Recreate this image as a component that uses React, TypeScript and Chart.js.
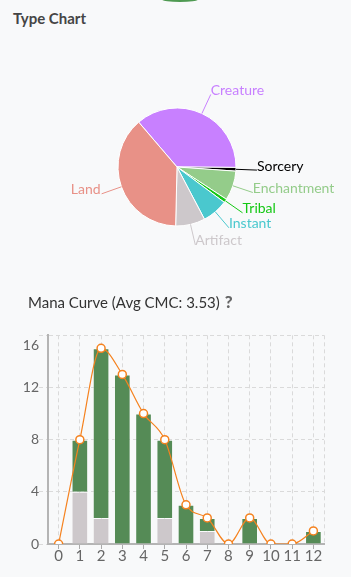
import React, { useEffect, useRef } from 'react';
import { Chart, registerables } from 'chart.js';

Chart.register(...registerables);

// ---- Type chart data ----
const typeLabels = ['Creature', 'Sorcery', 'Enchantment', 'Tribal', 'Instant', 'Artifact', 'Land'];
const typeCounts = [36, 1, 8, 1, 7, 8, 38];
const typeColors = ['#c880ff', '#000000', '#94cc8a', '#14c814', '#4ac8ce', '#cdc8cb', '#e89187'];

// ---- Mana curve data ----
const cmcLabels = ['0', '1', '2', '3', '4', '5', '6', '7', '8', '9', '10', '11', '12'];
const colorlessCounts = [0, 4, 2, 0, 0, 2, 0, 1, 0, 0, 0, 0, 0];
const coloredCounts = [0, 4, 13, 13, 10, 6, 3, 1, 0, 2, 0, 0, 1];
const totalCounts = [0, 8, 15, 13, 10, 8, 3, 2, 0, 2, 0, 0, 1];
const yTickValues = [0, 4, 8, 12, 16];

const FONT = 'Lato, "Noto Sans", sans-serif';

const outLabels = {
  id: 'outLabels',
  afterDatasetsDraw(chart: any) {
    const ctx = chart.ctx;
    const meta = chart.getDatasetMeta(0);
    const labels = chart.data.labels;
    const colors = chart.data.datasets[0].backgroundColor;
    meta.data.forEach((arc: any, i: number) => {
      const p = arc.getProps(['x', 'y', 'startAngle', 'endAngle', 'outerRadius'], true);
      const mid = (p.startAngle + p.endAngle) / 2;
      const c = Math.cos(mid);
      const s = Math.sin(mid);
      const x1 = p.x + c * p.outerRadius;
      const y1 = p.y + s * p.outerRadius;
      const r2 = p.outerRadius + 21;
      const x2 = p.x + c * r2;
      const y2 = p.y + s * r2;
      ctx.save();
      ctx.strokeStyle = colors[i];
      ctx.lineWidth = 1;
      ctx.beginPath();
      ctx.moveTo(x1, y1);
      ctx.lineTo(x2, y2);
      ctx.stroke();
      ctx.font = '14px ' + FONT;
      ctx.fillStyle = colors[i];
      ctx.textBaseline = 'middle';
      const right = c >= 0;
      ctx.textAlign = right ? 'left' : 'right';
      ctx.fillText(labels[i], right ? x2 : x2 - 1, y2 - 4);
      ctx.restore();
    });
  },
};

const rightEdge = {
  id: 'rightEdge',
  beforeDatasetsDraw(chart: any) {
    const { ctx, chartArea } = chart;
    ctx.save();
    ctx.strokeStyle = '#dadada';
    ctx.lineWidth = 1;
    ctx.setLineDash([4, 3]);
    ctx.beginPath();
    ctx.moveTo(Math.round(chartArea.right) + 0.5, chartArea.top);
    ctx.lineTo(Math.round(chartArea.right) + 0.5, chartArea.bottom);
    ctx.stroke();
    ctx.restore();
  },
};

function PieChart() {
  const ref = useRef<HTMLCanvasElement>(null);
  useEffect(() => {
    const chart = new Chart(ref.current!, {
      type: 'pie',
      data: {
        labels: typeLabels,
        datasets: [
          {
            data: typeCounts,
            backgroundColor: typeColors,
            borderColor: '#ffffff',
            borderWidth: 1,
            radius: 59,
          } as any,
        ],
      },
      options: {
        responsive: false,
        animation: false,
        rotation: -40.5,
        layout: { padding: { left: 3 } },
        plugins: { legend: { display: false }, tooltip: { enabled: false } },
      },
      plugins: [outLabels],
    });
    return () => chart.destroy();
  }, []);
  return (
    <canvas
      ref={ref}
      width={351}
      height={254}
      style={{ position: 'absolute', left: 0, top: 40, width: 351, height: 254 }}
    />
  );
}

function BarChart() {
  const ref = useRef<HTMLCanvasElement>(null);
  useEffect(() => {
    const gridColor = '#dadada';
    const axisColor = '#b4b4b4';
    const chart = new Chart(ref.current!, {
      type: 'bar',
      data: {
        labels: cmcLabels,
        datasets: [
          {
            type: 'line',
            label: 'Total',
            data: totalCounts,
            borderColor: '#f5821f',
            borderWidth: 1.2,
            backgroundColor: '#ffffff',
            pointBackgroundColor: '#ffffff',
            pointBorderColor: '#f5821f',
            pointBorderWidth: 1.5,
            pointRadius: 4,
            cubicInterpolationMode: 'monotone',
            fill: false,
            order: 0,
            stack: 'line',
          } as any,
          {
            label: 'Colorless',
            data: colorlessCounts,
            backgroundColor: '#cdc8cb',
            borderColor: 'rgba(255,255,255,0.35)',
            borderWidth: 1,
            barPercentage: 0.98,
            categoryPercentage: 0.8,
            stack: 'cards',
            order: 1,
          },
          {
            label: 'Colored',
            data: coloredCounts,
            backgroundColor: '#558b56',
            borderColor: 'rgba(255,255,255,0.35)',
            borderWidth: 1,
            barPercentage: 0.98,
            categoryPercentage: 0.8,
            stack: 'cards',
            order: 1,
          },
        ],
      },
      options: {
        responsive: false,
        animation: false,
        layout: { padding: { top: 9, right: 27, left: 0, bottom: 0 } },
        plugins: { legend: { display: false }, tooltip: { enabled: false } },
        scales: {
          x: {
            stacked: true,
            grid: {
              offset: false,
              color: gridColor,
              lineWidth: 1,
              tickLength: 5,
              tickColor: '#aaaaaa',
              tickBorderDash: [],
            } as any,
            border: { color: axisColor, width: 2, dash: [4, 3] } as any,
            ticks: {
              color: '#666',
              font: { family: FONT, size: 15, lineHeight: 1 },
              padding: 0,
              maxRotation: 0,
              autoSkip: false,
            },
            afterFit: (s: any) => {
              s.height = 33;
            },
          },
          y: {
            stacked: true,
            min: 0,
            max: 16,
            afterBuildTicks: (s: any) => {
              s.ticks = yTickValues.map((v) => ({ value: v }));
            },
            grid: {
              color: gridColor,
              lineWidth: 1,
              tickLength: 9,
              tickColor: gridColor,
              tickBorderDash: [4, 3],
            } as any,
            border: { color: axisColor, width: 2, dash: [4, 3] } as any,
            ticks: {
              color: '#666',
              font: { family: FONT, size: 14, lineHeight: 1.45 },
              padding: 0,
              callback: (v: any) => (v === 16 ? ['', String(v)] : String(v)),
            },
            afterFit: (s: any) => {
              s.width = 48;
            },
          },
        },
      },
      plugins: [rightEdge],
    });
    return () => chart.destroy();
  }, []);
  return (
    <canvas
      ref={ref}
      width={351}
      height={262}
      style={{ position: 'absolute', left: 0, top: 315, width: 351, height: 262 }}
    />
  );
}

export default function App() {
  useEffect(() => {
    document.body.style.margin = '0';
    document.body.style.background = '#f8f9fa';
  }, []);
  return (
    <div style={{ position: 'relative', width: 351, height: 577, overflow: 'hidden', background: '#f8f9fa', fontFamily: FONT }}>
      <div
        style={{
          position: 'absolute',
          left: 162,
          top: -3,
          width: 36,
          height: 5,
          borderRadius: '50%',
          background: '#4f9a52',
        }}
      />
      <div
        style={{
          position: 'absolute',
          left: 13,
          top: 8,
          fontSize: 15,
          lineHeight: '20px',
          fontWeight: 700,
          color: '#454545',
          whiteSpace: 'nowrap',
        }}
      >
        Type Chart
      </div>
      <PieChart />
      <div
        style={{
          position: 'absolute',
          left: 28,
          top: 292,
          fontSize: 15,
          lineHeight: '20px',
          color: '#333',
          whiteSpace: 'nowrap',
        }}
      >
        Mana Curve (Avg CMC: 3.53)
        <span style={{ fontWeight: 900, color: '#666', marginLeft: 5, fontSize: 17 }}>?</span>
      </div>
      <BarChart />
    </div>
  );
}
